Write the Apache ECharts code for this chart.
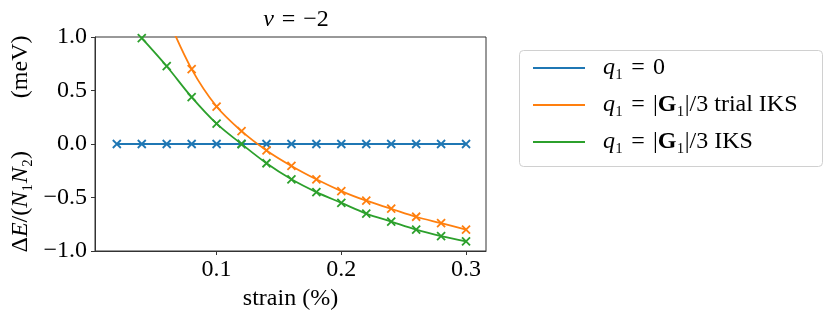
<!DOCTYPE html>
<html><head><meta charset="utf-8">
<script src="https://cdn.jsdelivr.net/npm/echarts@6/dist/echarts.min.js"></script>
<style>html,body{margin:0;padding:0;background:#fff}#c{width:831px;height:322px}</style>
</head><body><div id="c"></div>
<script>
const strain = [0.02,0.04,0.06,0.08,0.10,0.12,0.14,0.16,0.18,0.20,0.22,0.24,0.26,0.28,0.30];
const q0 = [0,0,0,0,0,0,0,0,0,0,0,0,0,0,0];
const trialIKS = [null,null,1.2,0.70,0.35,0.12,-0.06,-0.205,-0.33,-0.44,-0.53,-0.605,-0.68,-0.74,-0.80];
const iks = [null,0.99,0.727,0.438,0.19,0.0,-0.18,-0.33,-0.45,-0.55,-0.65,-0.725,-0.80,-0.86,-0.91];
const xTicks = [0.1,0.2,0.3];
const yTicks = [-1,-0.5,0,0.5,1];
const seriesNames = ['q1 = 0','q1 = |G1|/3 trial IKS','q1 = |G1|/3 IKS'];
const legendLabels = {
  'q1 = 0': '{i|q}{n|₁\u2004=\u20040}',
  'q1 = |G1|/3 trial IKS': '{i|q}{n|₁\u2004=\u2004|}{b|G}{n|₁|/3 trial IKS}',
  'q1 = |G1|/3 IKS': '{i|q}{n|₁\u2004=\u2004|}{b|G}{n|₁|/3 IKS}'
};
const colors = ['#1f77b4','#ff7f0e','#2ca02c'];
const FF = 'Liberation Serif';
const FS = 24;
const richBase = {
  n: {fontFamily: FF, fontSize: FS, fontWeight: 'normal', color: '#000'},
  i: {fontFamily: FF, fontSize: FS, fontWeight: 'normal', fontStyle: 'italic', color: '#000'},
  b: {fontFamily: FF, fontSize: FS, fontWeight: 'bold', color: '#000'}
};
const seriesData = [q0, trialIKS, iks];
const xMark = 'path://M0,0L10,10M10,0L0,10';
const fmtMinus = v => (Math.abs(v) < 1e-9 ? 0 : v).toFixed(1).replace('-', '\u2212');

const chart = echarts.init(document.getElementById('c'), null, {renderer: 'canvas'});
chart.setOption({
  animation: false,
  backgroundColor: '#fff',
  title: {
    text: '{i|ν}{n|\u2004=\u2004−2}',
    left: 291, top: 3, textAlign: 'center',
    textStyle: {fontWeight: 'normal', rich: richBase}
  },
  graphic: [{
    type: 'rect', left: 519, top: 50, z: 0,
    shape: {width: 303, height: 116, r: 4},
    style: {fill: '#fff', stroke: '#d0d0d0', lineWidth: 1}
  }],
  legend: {
    orient: 'vertical', left: 528, top: 50, z: 5,
    itemWidth: 52, itemHeight: 2, itemGap: 11,
    icon: 'rect',
    data: seriesNames.map((n, k) => ({name: n, icon: 'rect', itemStyle: {color: colors[k], borderWidth: 0}})),
    formatter: name => legendLabels[name],
    textStyle: {fontFamily: FF, fontSize: FS, lineHeight: 26, padding: [0,0,0,13], rich: richBase}
  },
  grid: {left: 95, right: 345, top: 37, bottom: 71, show: true, borderColor: '#333', borderWidth: 1},
  xAxis: {
    type: 'value', min: 0.0025, max: 0.316,
    name: 'strain (%)', nameLocation: 'middle', nameGap: 34,
    nameTextStyle: {fontFamily: FF, fontSize: FS, color: '#000'},
    axisLine: {show: true, onZero: false, lineStyle: {color: '#333', width: 1}},
    axisTick: {show: true, inside: false, length: 4, lineStyle: {color: '#333'}, customValues: xTicks},
    axisLabel: {fontFamily: FF, fontSize: FS, color: '#000', margin: 7, customValues: xTicks, formatter: v => v.toFixed(1)},
    splitLine: {show: false}
  },
  yAxis: {
    type: 'value', min: -1, max: 1, interval: 0.5,
    name: '{n|Δ}{i|E}{n|/(}{i|N}{n|₁}{i|N}{n|₂)\u2003\u2003\u2009(meV)}',
    nameLocation: 'middle', nameRotate: 90, nameGap: 62,
    nameTextStyle: {rich: richBase},
    axisLine: {show: true, onZero: false, lineStyle: {color: '#333', width: 1}},
    axisTick: {show: true, inside: false, length: 4, lineStyle: {color: '#333'}},
    axisLabel: {fontFamily: FF, fontSize: FS, color: '#000', margin: 8, formatter: fmtMinus},
    splitLine: {show: false}
  },
  series: seriesNames.map((n, k) => ({
    name: n, type: 'line', clip: true,
    data: strain.map((x, j) => [x, seriesData[k][j]]),
    smooth: k === 0 ? false : 0.35,
    showSymbol: true, showAllSymbol: true,
    symbol: xMark, symbolSize: 8,
    itemStyle: {color: colors[k], borderColor: colors[k], borderWidth: 1.8},
    lineStyle: {color: colors[k], width: 1.8},
    z: 2 + k
  }))
});
</script></body></html>
